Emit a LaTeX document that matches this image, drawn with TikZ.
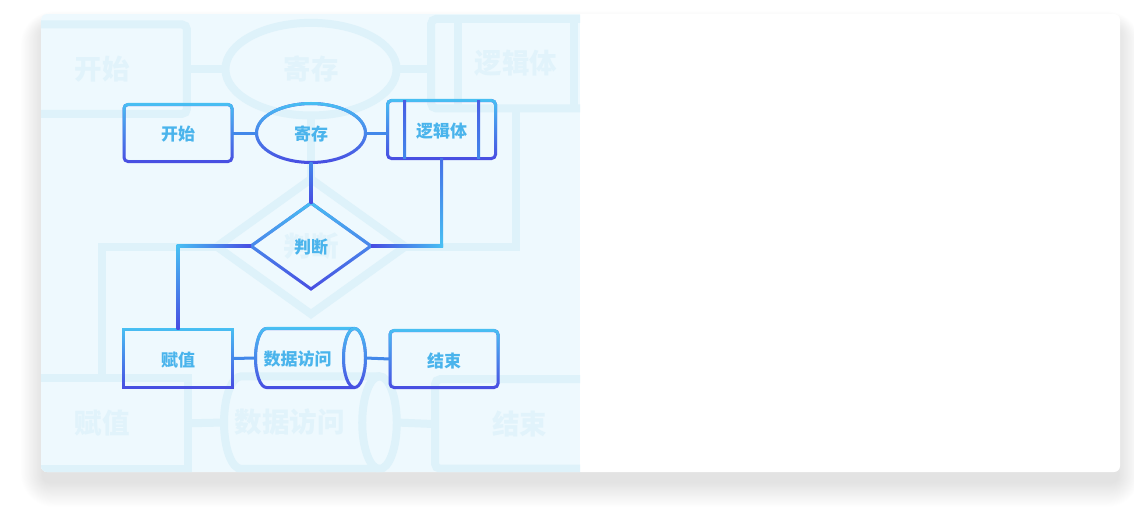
\documentclass[tikz,border=0pt]{standalone}
\usepackage{fontspec}
\newfontfamily\cjk{Noto Sans CJK SC}
\usetikzlibrary{shapes.geometric,fadings,calc}
\definecolor{fgL}{RGB}{72,192,243}
\definecolor{fgD}{RGB}{72,76,226}
\definecolor{fgM}{RGB}{66,136,234}
\definecolor{txt}{RGB}{74,180,236}
\definecolor{panel}{RGB}{238,249,254}
\definecolor{bgline}{RGB}{222,242,250}
\definecolor{bgtxt}{RGB}{225,243,251}
\newcommand\lbl[1]{\raisebox{-1.5pt}[\height][\depth]{#1}}
\tikzset{
  fgtext/.style={outer sep=0, inner sep=0,
    font=\cjk\bfseries\fontsize{17}{20}\selectfont, text=txt},
  bgtext/.style={outer sep=0, inner sep=0,
    font=\cjk\bfseries\fontsize{17.5}{20}\selectfont, text=bgtxt},
  fgline/.style={draw=fgD, line width=3, postaction={draw=fgL, path fading=south}},
  bgline/.style={draw=bgline, line width=8},
  fgshape/.style={fgtext, fgline},
  bgshape/.style={bgtext, bgline},
  boxdim/.style={rectangle, minimum width=108, minimum height=57},
  elldim/.style={ellipse, minimum width=109, minimum height=59},
  diadim/.style={diamond, minimum width=120, minimum height=86},
  cyldim/.style={rectangle, minimum width=110, minimum height=59},
  fgconn/.style={draw=fgM, line width=3},
  bgconn/.style={draw=bgline, line width=8},
}
% cylinder outline drawn around a named node: #1 node, #2 line style, #3 cap x radius
\newcommand\cylpath[3]{%
  \path (#1.north east) ++(-#3,0) coordinate (#1-tr)
        (#1.north west) ++(#3,0) coordinate (#1-tl)
        (#1.south east) ++(-#3,0) coordinate (#1-br)
        (#1.east) ++(-#3,0) coordinate (#1-c);
  \draw[#2] (#1-tr) -- (#1-tl) arc[start angle=270, end angle=90, x radius=#3, y radius=29.5] -- (#1-br);
  \draw[#2] (#1-c) ellipse[x radius=#3, y radius=29.5];
}
\begin{document}
\begin{tikzpicture}[x=1pt,y=-1pt]
\useasboundingbox (0,0) rectangle (1134,514);
\fill[white] (0,0) rectangle (1134,514);
% card shadow
\foreach \r in {1,...,28}{
  \pgfmathsetmacro\rc{\r+6}
  \fill[black, opacity=0.003, rounded corners=\rc] ({43-0.8*\r},{28-0.6*\r}) rectangle ({1118+0.8*\r},{482+0.9*\r});
}
\fill[white, rounded corners=6] (41,14) rectangle (1120,472);
\begin{scope}
  \clip[rounded corners=6] (41,14) rectangle (1120,472);
  \clip (41,14) rectangle (580,472);
  \fill[panel] (41,14) rectangle (580,472);
  % faded enlarged background chart
  \begin{scope}[shift={(311,245)}, scale=1.57, shift={(-311,-245)}, transform shape]
    \node[bgshape, boxdim, rounded corners=5] (bkaishi) at (178,133) {开始};
    \node[bgshape, elldim] (bjicun) at (311,133) {寄存};
    \node[bgshape, boxdim, rounded corners=5] (bluoji) at (441.5,129.5) {逻辑体};
    \draw[bgconn] (404.5,0 |- bluoji.north) -- (404.5,0 |- bluoji.south);
    \draw[bgconn] (478.5,0 |- bluoji.north) -- (478.5,0 |- bluoji.south);
    \node[bgshape, diadim] (bpanduan) at (311,246) {判断};
    \node[bgshape, boxdim, minimum width=109, minimum height=58] (bfuzhi) at (178,358.5) {赋值};
    \node[bgtext, cyldim] (bshuju) at (310.5,358) {数据访问\kern26pt};
    \cylpath{bshuju}{bgline}{11}
    \node[bgshape, boxdim, rounded corners=5] (bjieshu) at (444,359) {结束};
    \draw[bgconn] (bkaishi.east) -- (bjicun.west);
    \draw[bgconn] (bjicun.east) -- (bjicun.east -| bluoji.west);
    \draw[bgconn] (bjicun.south) -- (bpanduan.north);
    \draw[bgconn] (bluoji.south) |- (bpanduan.east);
    \draw[bgconn] (bpanduan.west) -| (bfuzhi.north);
    \draw[bgconn] (bfuzhi.east) -- (bshuju.west);
    \draw[bgconn] (bshuju.east) -- (bjieshu.west);
  \end{scope}
\end{scope}
% foreground chart
\node[fgshape, boxdim, rounded corners=4] (kaishi) at (178,133) {\lbl{开始}};
\node[fgshape, elldim] (jicun) at (311,133) {\lbl{寄存}};
\node[fgshape, boxdim, minimum height=58, rounded corners=4] (luoji) at (441.5,129.5) {\lbl{逻辑体}};
\shade[top color=fgD!85!fgL, bottom color=fgM] ($(404.5,0 |- luoji.north)+(-1.5,0)$) rectangle ($(404.5,0 |- luoji.south)+(1.5,0)$);
\shade[top color=fgD!85!fgL, bottom color=fgM] ($(478.5,0 |- luoji.north)+(-1.5,0)$) rectangle ($(478.5,0 |- luoji.south)+(1.5,0)$);
\node[fgshape, diadim] (panduan) at (311,246) {\lbl{判断}};
\node[fgshape, boxdim, minimum width=109, minimum height=58] (fuzhi) at (178,358.5) {\lbl{赋值}};
\node[fgtext, cyldim] (shuju) at (310.5,358) {\lbl{数据访问}\kern26pt};
\cylpath{shuju}{fgline}{11}
\node[fgshape, boxdim, rounded corners=4] (jieshu) at (444,359) {\lbl{结束}};
\coordinate (c1) at (luoji.south |- panduan.east);
\coordinate (c2) at (fuzhi.north |- panduan.west);
\draw[fgconn] (kaishi.east) -- (jicun.west);
\draw[fgconn] (jicun.east) -- (jicun.east -| luoji.west);
\shade[top color=fgM, bottom color=fgD] ($(jicun.south)+(-1.5,0)$) rectangle ($(panduan.north)+(1.5,0)$);
\shade[top color=fgM!60!fgD, bottom color=fgL] ($(luoji.south)+(-1.5,0)$) rectangle ($(c1)+(1.5,0)$);
\shade[left color=fgD, right color=fgL] ($(panduan.east)+(0,-1.5)$) rectangle ($(c1)+(1.5,1.5)$);
\shade[left color=fgL, right color=fgD] ($(c2)+(-1.5,-1.5)$) rectangle ($(panduan.west)+(0,1.5)$);
\shade[top color=fgL, bottom color=fgD] ($(c2)+(-1.5,0)$) rectangle ($(fuzhi.north)+(1.5,0)$);
\draw[fgconn] (fuzhi.east) -- (shuju.west);
\draw[fgconn] (shuju.east) -- (jieshu.west);
\end{tikzpicture}
\end{document}
